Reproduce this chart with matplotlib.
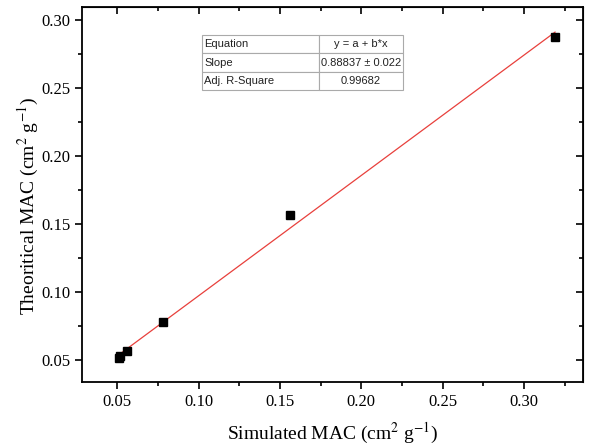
import numpy as np
import matplotlib
matplotlib.use("Agg")
import matplotlib.pyplot as plt
from matplotlib.ticker import MultipleLocator

# data
simulated = [0.051, 0.052, 0.056, 0.078, 0.156, 0.319]
theoretical = [0.0515, 0.053, 0.0565, 0.078, 0.1565, 0.2875]
table_rows = [["Equation", "y = a + b*x"],
              ["Slope", "0.88837 \u00b1 0.022"],
              ["Adj. R-Square", "0.99682"]]

plt.rcParams['font.family'] = ['Liberation Serif', 'DejaVu Serif']
plt.rcParams['mathtext.fontset'] = 'stix'

fig = plt.figure(figsize=(5.91, 4.47), dpi=100)
ax = fig.add_axes([0.139, 0.145, 0.847, 0.839])

# linear fit line
b, a = np.polyfit(simulated, theoretical, 1)
xs = np.array([min(simulated), max(simulated)])
ax.plot(xs, a + b * xs, color='#e8403c', lw=0.9, zorder=2)
ax.plot(simulated, theoretical, 's', color='black', ms=6.3, zorder=3)

ax.set_xlim(0.0285, 0.336)
ax.set_ylim(0.0338, 0.3096)
ax.xaxis.set_major_locator(MultipleLocator(0.05))
ax.xaxis.set_minor_locator(MultipleLocator(0.025))
ax.yaxis.set_major_locator(MultipleLocator(0.05))
ax.yaxis.set_minor_locator(MultipleLocator(0.025))
ax.xaxis.set_major_formatter(lambda v, p: f"{v:.2f}")
ax.yaxis.set_major_formatter(lambda v, p: f"{v:.2f}")

ax.tick_params(which='major', direction='out', length=5, width=1.2, labelsize=12)
ax.tick_params(which='minor', direction='out', length=3, width=1.2)
for s in ax.spines.values():
    s.set_linewidth(1.3)

# inward ticks on top and right
top = ax.secondary_xaxis('top')
top.xaxis.set_major_locator(MultipleLocator(0.05))
top.xaxis.set_minor_locator(MultipleLocator(0.025))
top.tick_params(which='major', direction='in', length=5, width=1.2, labeltop=False)
top.tick_params(which='minor', direction='in', length=3, width=1.2)
right = ax.secondary_yaxis('right')
right.yaxis.set_major_locator(MultipleLocator(0.05))
right.yaxis.set_minor_locator(MultipleLocator(0.025))
right.tick_params(which='major', direction='in', length=5, width=1.2, labelright=False)
right.tick_params(which='minor', direction='in', length=3, width=1.2)

ax.set_xlabel(r"Simulated MAC (cm$^2$ g$^{-1}$)", fontsize=14, labelpad=8)
ax.set_ylabel(r"Theoritical MAC (cm$^2$ g$^{-1}$)", fontsize=14)
ax.yaxis.set_label_coords(-0.082, 0.47)

# fit statistics table
tbl = ax.table(cellText=table_rows, cellLoc='center', colWidths=[0.58, 0.42],
               bbox=[(202 - 82) / 501, (382 - 90) / 375, 201 / 501, 55 / 375])
tbl.auto_set_font_size(False)
for (r, c), cell in tbl.get_celld().items():
    cell.set_edgecolor('#aaaaaa')
    cell.set_linewidth(0.8)
    cell.get_text().set_fontsize(8)
    cell.get_text().set_color('#222222')
    cell.get_text().set_family(['Liberation Sans', 'DejaVu Sans'])
    if c == 0:
        cell.set_text_props(ha='left')
        cell.PAD = 0.02

fig.savefig("out.png", dpi=100)
